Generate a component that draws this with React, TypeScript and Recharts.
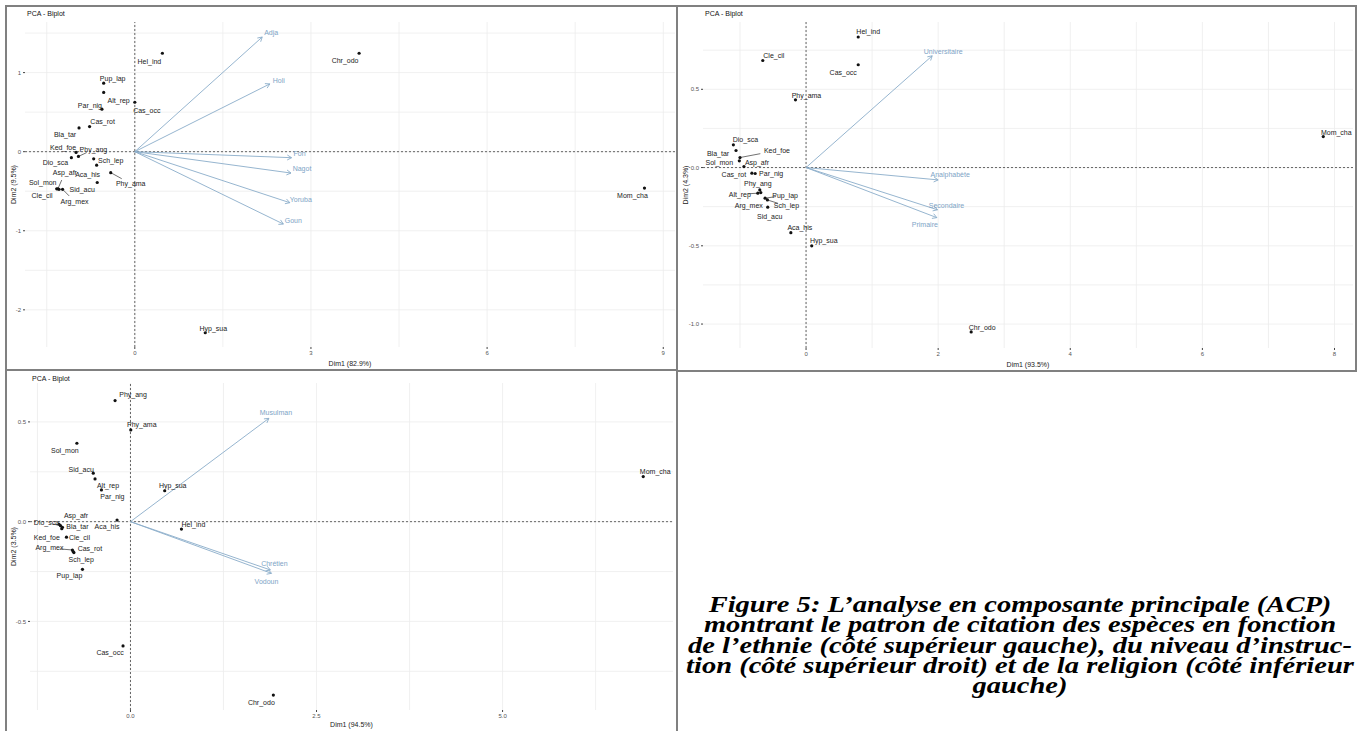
import React from 'react';
import { ScatterChart, Scatter, XAxis, YAxis, CartesianGrid, ReferenceLine, Label } from 'recharts';

// ---- panel 1 : ethnie ----
const ethSpecies = ['Hel_ind', 'Chr_odo', 'Pup_lap', 'Alt_rep', 'Cas_occ', 'Par_nig', 'Cas_rot', 'Bla_tar', 'Ked_foe', 'Phy_ang', 'Dio_sca', 'Sch_lep', 'Aca_his', 'Phy_ama', 'Asp_afr', 'Sid_acu', 'Sol_mon', 'Cle_cil', 'Arg_mex', 'Mom_cha', 'Hyp_sua'];
const ethDim1 = [0.47, 3.82, -0.53, -0.53, 0.0, -0.56, -0.77, -0.95, -1.0, -0.96, -1.08, -0.7, -0.65, -0.41, -1.31, -0.64, -1.33, -1.29, -1.23, 8.68, 1.2];
const ethDim2 = [1.245, 1.245, 0.866, 0.75, 0.625, 0.537, 0.317, 0.3, -0.01, -0.06, -0.076, -0.09, -0.17, -0.265, -0.47, -0.39, -0.47, -0.476, -0.476, -0.46, -2.29];
const ethGroups = ['Adja', 'Holi', 'Fon', 'Nagot', 'Yoruba', 'Goun'];
const ethGroupDim1 = [2.17, 2.3, 2.67, 2.66, 2.64, 2.53];
const ethGroupDim2 = [1.45, 0.857, -0.076, -0.27, -0.645, -0.915];
const ethXTicks = [0, 3, 6, 9];
const ethYTicks = [-2, -1, 0, 1];

// ---- panel 2 : niveau d'instruction ----
const eduSpecies = ['Hel_ind', 'Cle_cil', 'Cas_occ', 'Phy_ama', 'Dio_sca', 'Bla_tar', 'Ked_foe', 'Sol_mon', 'Asp_afr', 'Cas_rot', 'Par_nig', 'Phy_ang', 'Alt_rep', 'Pup_lap', 'Arg_mex', 'Sch_lep', 'Sid_acu', 'Aca_his', 'Hyp_sua', 'Chr_odo', 'Mom_cha'];
const eduDim1 = [0.79, -0.655, 0.79, -0.16, -1.1, -1.06, -1.0, -1.01, -0.94, -0.82, -0.77, -0.7, -0.73, -0.62, -0.685, -0.585, -0.58, -0.23, 0.086, 2.5, 7.83];
const eduDim2 = [0.834, 0.684, 0.657, 0.433, 0.145, 0.109, 0.064, 0.043, 0.006, -0.036, -0.038, -0.143, -0.164, -0.196, -0.16, -0.207, -0.253, -0.416, -0.5, -1.05, 0.198];
const eduGroups = ['Universitaire', 'Analphabète', 'Secondaire', 'Primaire'];
const eduGroupDim1 = [1.91, 2.0, 1.99, 1.98];
const eduGroupDim2 = [0.714, -0.079, -0.27, -0.32];
const eduXTicks = [0, 2, 4, 6, 8];
const eduYTicks = [-1, -0.5, 0, 0.5];

// ---- panel 3 : religion ----
const relSpecies = ['Phy_ang', 'Phy_ama', 'Sol_mon', 'Sid_acu', 'Alt_rep', 'Par_nig', 'Hyp_sua', 'Asp_afr', 'Aca_his', 'Dio_sca', 'Bla_tar', 'Ked_foe', 'Hel_ind', 'Cle_cil', 'Arg_mex', 'Cas_rot', 'Sch_lep', 'Pup_lap', 'Cas_occ', 'Chr_odo', 'Mom_cha'];
const relDim1 = [-0.207, 0.004, -0.72, -0.5, -0.476, -0.39, 0.46, -0.96, -0.18, -0.94, -0.914, -0.923, 0.685, -0.86, -0.78, -0.76, -0.77, -0.645, -0.1, 1.92, 6.89];
const relDim2 = [0.607, 0.46, 0.393, 0.243, 0.214, 0.159, 0.155, -0.013, 0.008, -0.02, -0.028, -0.035, -0.037, -0.078, -0.142, -0.155, -0.15, -0.239, -0.623, -0.869, 0.226];
const relGroups = ['Musulman', 'Chrétien', 'Vodoun'];
const relGroupDim1 = [1.86, 1.88, 1.895];
const relGroupDim2 = [0.518, -0.242, -0.259];
const relXTicks = [0, 2.5, 5];
const relYTicks = [-0.5, 0, 0.5];

// label placement (px offsets from the point, like ggrepel)
const ethNudge: Record<string, [number, number]> = {
  Hel_ind: [-13, 8], Chr_odo: [-14, 7], Pup_lap: [9, -5], Alt_rep: [15, 8], Cas_occ: [12, 8], Par_nig: [-12, -4],
  Cas_rot: [13, -5], Bla_tar: [-14, 7], Ked_foe: [-13, -5], Phy_ang: [15, -7], Dio_sca: [-16, 5], Sch_lep: [17, 2],
  Aca_his: [-9, 9], Phy_ama: [20, 11], Asp_afr: [7, -16], Sid_acu: [-15, 7], Sol_mon: [-14, -6], Cle_cil: [-17, 6],
  Arg_mex: [12, 12], Mom_cha: [-12, 7], Hyp_sua: [8, -4],
};
const eduNudge: Record<string, [number, number]> = {
  Hel_ind: [10, -6], Cle_cil: [11, -5], Cas_occ: [-15, 8], Phy_ama: [11, -4], Dio_sca: [12, -5], Bla_tar: [-18, 3],
  Ked_foe: [37, -7], Sol_mon: [-20, 2], Asp_afr: [13, -4], Cas_rot: [-18, 1], Par_nig: [16, 0], Phy_ang: [-2, -6],
  Alt_rep: [-18, 1], Pup_lap: [20, -3], Arg_mex: [-12, 13], Sch_lep: [19, 6], Sid_acu: [2, 9], Aca_his: [9, -5],
  Hyp_sua: [12, -5], Chr_odo: [11, -4], Mom_cha: [13, -4],
};
const relNudge: Record<string, [number, number]> = {
  Phy_ang: [18, -6], Phy_ama: [11, -5], Sol_mon: [-12, 7], Sid_acu: [-12, -4], Alt_rep: [13, 7], Par_nig: [11, 7],
  Hyp_sua: [8, -5], Asp_afr: [17, -9], Aca_his: [-10, 6], Dio_sca: [-14, -3], Bla_tar: [15, -1], Ked_foe: [-15, 9],
  Hel_ind: [12, -5], Cle_cil: [13, 0], Arg_mex: [-23, -2], Cas_rot: [16, -4], Sch_lep: [8, 8], Pup_lap: [-13, 6],
  Cas_occ: [-13, 7], Chr_odo: [-12, 7], Mom_cha: [12, -5],
};
const ethArrowNudge: [number, number][] = [[9, -5], [9, -3], [8, -4], [11, -5], [11, -3], [10, -4]];
const eduArrowNudge: [number, number][] = [[11, -4], [12, -5], [9, -4], [-12, 7]];
const relArrowNudge: [number, number][] = [[7, -6], [4, -6], [-5, 8]];

const ethLeaders = ['Phy_ang', 'Phy_ama', 'Asp_afr', 'Arg_mex'];
const eduLeaders = ['Ked_foe', 'Sch_lep', 'Alt_rep', 'Pup_lap'];
const relLeaders = ['Dio_sca', 'Arg_mex'];

const ARROW = '#8aadca';
const ARROW_TEXT = '#7ea4c6';
const FONT = '"Liberation Sans", Arial, sans-serif';

type Pt = { name: string; x: number; y: number };
const zip = (names: string[], xs: number[], ys: number[]): Pt[] => names.map((name, i) => ({ name, x: xs[i], y: ys[i] }));

const range = (from: number, to: number, step: number) => {
  const out: number[] = [];
  for (let v = from; v <= to + 1e-9; v += step) out.push(Math.round(v * 1000) / 1000);
  return out;
};

const pointShape = (nudge: Record<string, [number, number]>, leaders: string[]) => (props: any) => {
  const { cx, cy, payload } = props;
  const [dx, dy] = nudge[payload.name] ?? [10, -5];
  const lead = leaders.includes(payload.name);
  return (
    <g>
      {lead && <line x1={cx} y1={cy} x2={cx + dx * 0.55} y2={cy + dy * 0.55} stroke="#333" strokeWidth={0.7} />}
      <circle cx={cx} cy={cy} r={1.6} fill="#111" />
      <text x={cx + dx} y={cy + dy} textAnchor="middle" dominantBaseline="central" fontSize={7} fontFamily={FONT} fill="#222">
        {payload.name}
      </text>
    </g>
  );
};

const arrowShape = (name: string, nudge: [number, number]) => (props: any) => {
  const { x1, y1, x2, y2 } = props;
  if (x1 == null || x2 == null) return <g />;
  const a = Math.atan2(y2 - y1, x2 - x1);
  const len = 5;
  const h1x = x2 - len * Math.cos(a - Math.PI / 6);
  const h1y = y2 - len * Math.sin(a - Math.PI / 6);
  const h2x = x2 - len * Math.cos(a + Math.PI / 6);
  const h2y = y2 - len * Math.sin(a + Math.PI / 6);
  return (
    <g>
      <line x1={x1} y1={y1} x2={x2} y2={y2} stroke={ARROW} strokeWidth={0.9} />
      <polyline points={`${h1x},${h1y} ${x2},${y2} ${h2x},${h2y}`} fill="none" stroke={ARROW} strokeWidth={0.9} />
      <text x={x2 + nudge[0]} y={y2 + nudge[1]} textAnchor="middle" dominantBaseline="central" fontSize={7} fontFamily={FONT} fill={ARROW_TEXT}>
        {name}
      </text>
    </g>
  );
};

// rotated y title, placed a fixed distance from the left edge of the axis box
const yTitle = (value: string, inset: number) => (props: any) => {
  const vb = props.viewBox || {};
  const x = (vb.x ?? 0) + inset;
  const y = (vb.y ?? 0) + (vb.height ?? 0) / 2;
  return (
    <text x={x} y={y} transform={`rotate(-90, ${x}, ${y})`} textAnchor="middle" dominantBaseline="central" fontSize={7} fill="#222" fontFamily={FONT}>
      {value}
    </text>
  );
};

interface PanelProps {
  box: { left: number; top: number; width: number; height: number };
  margin: { top: number; right: number; bottom: number; left: number };
  yWidth: number;
  xHeight: number;
  titleInset: number;
  xDomain: [number, number];
  yDomain: [number, number];
  xTicks: number[];
  yTicks: number[];
  xGrid: number[];
  yGrid: number[];
  fmt: (v: number) => string;
  yFmt: (v: number) => string;
  xTitle: string;
  yTitle: string;
  points: Pt[];
  groups: Pt[];
  nudge: Record<string, [number, number]>;
  arrowNudge: [number, number][];
  leaders: string[];
}

function Biplot(p: PanelProps) {
  const { box } = p;
  return (
    <div style={{ position: 'absolute', left: box.left, top: box.top, width: box.width, height: box.height }}>
      <ScatterChart width={box.width} height={box.height} margin={p.margin}>
        <CartesianGrid stroke="#ececec" strokeWidth={0.8} verticalValues={p.xGrid} horizontalValues={p.yGrid} />
        <XAxis
          type="number"
          dataKey="x"
          domain={p.xDomain}
          allowDataOverflow
          ticks={p.xTicks}
          interval={0}
          tickFormatter={p.fmt}
          axisLine={false}
          tickSize={2}
          tickLine={{ stroke: '#444' }}
          tick={{ fontSize: 6, fill: '#555', fontFamily: FONT }}
          height={p.xHeight}
        >
          <Label value={p.xTitle} position="insideBottom" offset={3} fontSize={7} fill="#222" fontFamily={FONT} />
        </XAxis>
        <YAxis
          type="number"
          dataKey="y"
          domain={p.yDomain}
          allowDataOverflow
          ticks={p.yTicks}
          interval={0}
          tickFormatter={p.yFmt}
          axisLine={false}
          tickSize={2}
          tickLine={{ stroke: '#444' }}
          tick={{ fontSize: 6, fill: '#555', fontFamily: FONT }}
          width={p.yWidth}
        >
          <Label content={yTitle(p.yTitle, p.titleInset)} />
        </YAxis>
        <ReferenceLine x={0} stroke="#555" strokeDasharray="2 2" strokeWidth={0.9} />
        <ReferenceLine y={0} stroke="#555" strokeDasharray="2 2" strokeWidth={0.9} />
        {p.groups.map((g, i) => (
          <ReferenceLine
            key={g.name}
            segment={[{ x: 0, y: 0 }, { x: g.x, y: g.y }]}
            ifOverflow="visible"
            shape={arrowShape(g.name, p.arrowNudge[i])}
          />
        ))}
        <Scatter data={p.points} isAnimationActive={false} shape={pointShape(p.nudge, p.leaders)} />
      </ScatterChart>
      <div style={{ position: 'absolute', left: p.margin.left + p.yWidth + 2, top: 5, fontSize: 7, fontFamily: FONT, color: '#111' }}>
        PCA - Biplot
      </div>
    </div>
  );
}

const intFmt = (v: number) => String(v);
const oneDec = (v: number) => v.toFixed(1);

const captionLines = [
  'Figure 5: L’analyse en composante principale (ACP)',
  'montrant le patron de citation des espèces en fonction',
  'de l’ethnie (côté supérieur gauche), du niveau d’instruc-',
  'tion (côté supérieur droit) et de la religion (côté inférieur',
  'gauche)',
];

export default function App() {
  const frame = '2px solid #808080';
  return (
    <div style={{ position: 'absolute', left: 0, top: 0, width: 1364, height: 731, background: '#fff', overflow: 'hidden' }}>
      <Biplot
        box={{ left: 5, top: 5, width: 672, height: 365 }}
        margin={{ top: 17, right: 2, bottom: 1, left: 0 }}
        yWidth={20}
        xHeight={22}
        titleInset={8}
        xDomain={[-1.87, 9.2]}
        yDomain={[-2.47, 1.64]}
        xTicks={ethXTicks}
        yTicks={ethYTicks}
        xGrid={range(-1.5, 9, 1.5)}
        yGrid={range(-2, 1.5, 0.5)}
        fmt={intFmt}
        yFmt={intFmt}
        xTitle="Dim1 (82.9%)"
        yTitle="Dim2 (9.5%)"
        points={zip(ethSpecies, ethDim1, ethDim2)}
        groups={zip(ethGroups, ethGroupDim1, ethGroupDim2)}
        nudge={ethNudge}
        arrowNudge={ethArrowNudge}
        leaders={ethLeaders}
      />
      <Biplot
        box={{ left: 677, top: 5, width: 679, height: 366 }}
        margin={{ top: 17, right: 3, bottom: 1, left: 4 }}
        yWidth={22}
        xHeight={22}
        titleInset={4}
        xDomain={[-1.56, 8.28]}
        yDomain={[-1.153, 0.93]}
        xTicks={eduXTicks}
        yTicks={eduYTicks}
        xGrid={range(-1, 8, 1)}
        yGrid={range(-1, 0.75, 0.25)}
        fmt={intFmt}
        yFmt={oneDec}
        xTitle="Dim1 (93.5%)"
        yTitle="Dim2 (4.3%)"
        points={zip(eduSpecies, eduDim1, eduDim2)}
        groups={zip(eduGroups, eduGroupDim1, eduGroupDim2)}
        nudge={eduNudge}
        arrowNudge={eduArrowNudge}
        leaders={eduLeaders}
      />
      <Biplot
        box={{ left: 5, top: 370, width: 672, height: 361 }}
        margin={{ top: 13, right: 4, bottom: 1, left: 3 }}
        yWidth={22}
        xHeight={20}
        titleInset={5}
        xDomain={[-1.35, 7.29]}
        yDomain={[-0.944, 0.695]}
        xTicks={relXTicks}
        yTicks={relYTicks}
        xGrid={range(-1.25, 6.25, 1.25)}
        yGrid={range(-0.75, 0.5, 0.25)}
        fmt={oneDec}
        yFmt={oneDec}
        xTitle="Dim1 (94.5%)"
        yTitle="Dim2 (3.5%)"
        points={zip(relSpecies, relDim1, relDim2)}
        groups={zip(relGroups, relGroupDim1, relGroupDim2)}
        nudge={relNudge}
        arrowNudge={relArrowNudge}
        leaders={relLeaders}
      />
      {/* panel frames */}
      <div style={{ position: 'absolute', left: 5, top: 5, width: 673, height: 366, border: frame, boxSizing: 'border-box' }} />
      <div style={{ position: 'absolute', left: 676, top: 5, width: 681, height: 367, border: frame, boxSizing: 'border-box' }} />
      <div style={{ position: 'absolute', left: 5, top: 369, width: 673, height: 370, border: frame, boxSizing: 'border-box' }} />
      {/* caption */}
      {captionLines.map((line, i) => (
        <div
          key={i}
          style={{
            position: 'absolute',
            left: 670,
            top: 595 + i * 20.3,
            width: 700,
            height: 20,
            textAlign: 'center',
            whiteSpace: 'nowrap',
            fontFamily: '"Liberation Serif", "Times New Roman", serif',
            fontWeight: 'bold',
            fontStyle: 'italic',
            fontSize: 23,
            lineHeight: '20px',
            color: '#000',
            transform: 'scaleX(1.24)',
            transformOrigin: '350px 0',
          }}
        >
          {line}
        </div>
      ))}
    </div>
  );
}
